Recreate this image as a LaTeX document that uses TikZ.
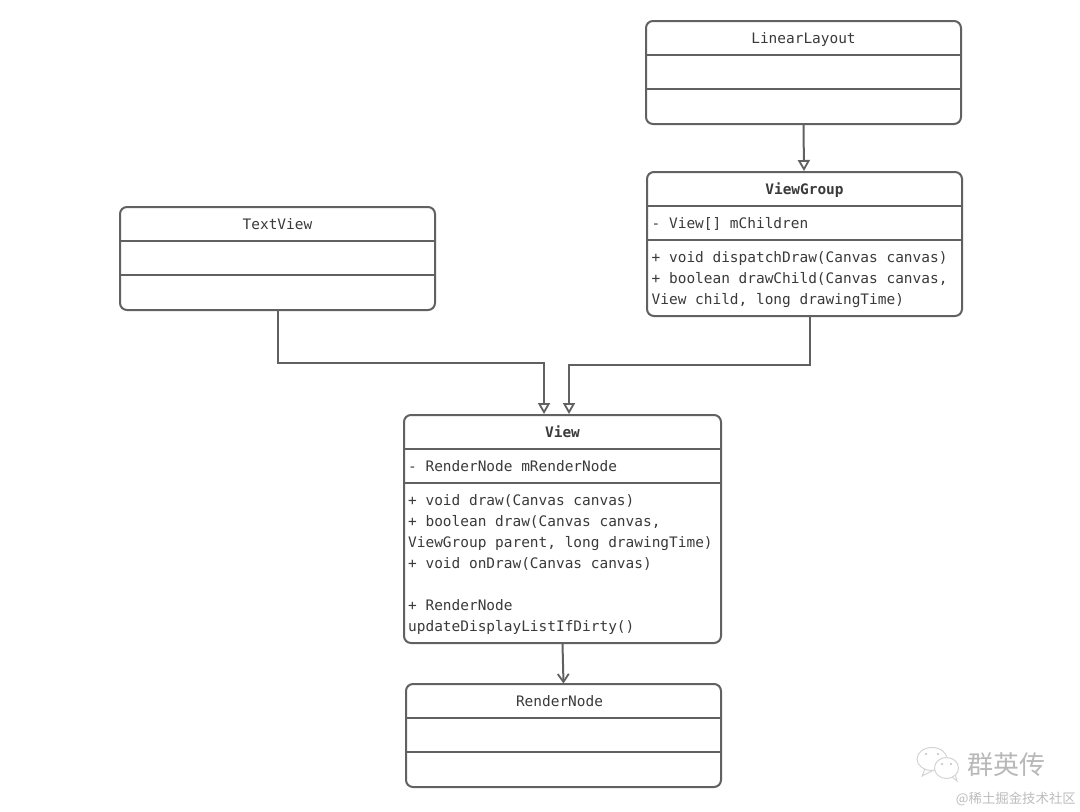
\documentclass[tikz,border=0pt]{standalone}
\usepackage{fontspec}
\setmonofont{DejaVu Sans Mono}
\newfontfamily\cjkf{Noto Sans CJK SC}
\usetikzlibrary{arrows.meta,positioning}
\definecolor{linec}{HTML}{616161}
\definecolor{textc}{HTML}{3A3A3A}
\tikzset{
  x=1pt,y=-1pt,
  umlbox/.style={draw=linec,line width=2pt,rounded corners=7pt,inner sep=0pt,fill=white},
  sep/.style={draw=linec,line width=2pt},
  conn/.style={draw=linec,line width=2pt},
  inherit/.style={conn,-{Triangle[open,length=11pt,width=12pt,line width=1.8pt]}},
  assoc/.style={conn,-{Straight Barb[length=8pt,width=11pt,line width=1.8pt]}},
  title/.style={font=\ttfamily\fontsize{14.45}{21}\selectfont,text=textc,inner sep=0pt,anchor=center},
  btitle/.style={title,font=\ttfamily\bfseries\fontsize{14.45}{21}\selectfont},
  body/.style={font=\ttfamily\fontsize{14.45}{21}\selectfont,text=textc,inner sep=0pt,anchor=north west,align=left},
}
\begin{document}
\begin{tikzpicture}
\useasboundingbox (0,0) rectangle (1080,812);
\fill[white] (0,0) rectangle (1080,812);

% boxes
\node[umlbox,minimum width=315pt,minimum height=103pt] (ll) at (803.5,72.5) {};
\node[umlbox,minimum width=315pt,minimum height=144pt] (vg) at (804.5,244) {};
\node[umlbox,minimum width=315pt,minimum height=103pt] (tv) at (277.5,258.5) {};
\node[umlbox,minimum width=317pt,minimum height=228pt] (vw) at (562.5,529) {};
\node[umlbox,minimum width=315pt,minimum height=103pt] (rn) at (563.5,735.5) {};

% separators
\draw[sep] (ll.west |- 0,55) -- (ll.east |- 0,55);
\draw[sep] (ll.west |- 0,89) -- (ll.east |- 0,89);
\draw[sep] (vg.west |- 0,206) -- (vg.east |- 0,206);
\draw[sep] (vg.west |- 0,240) -- (vg.east |- 0,240);
\draw[sep] (tv.west |- 0,241) -- (tv.east |- 0,241);
\draw[sep] (tv.west |- 0,275) -- (tv.east |- 0,275);
\draw[sep] (vw.west |- 0,449) -- (vw.east |- 0,449);
\draw[sep] (vw.west |- 0,483) -- (vw.east |- 0,483);
\draw[sep] (rn.west |- 0,718) -- (rn.east |- 0,718);
\draw[sep] (rn.west |- 0,752) -- (rn.east |- 0,752);

% titles
\node[title] (llt) at (803.5,39.5) {LinearLayout};
\node[btitle] (vgt) at (804.5,190) {ViewGroup};
\node[title] (tvt) at (277.5,224.2) {TextView};
\node[btitle] (vwt) at (562.5,432.2) {View};
\node[title] (rnt) at (559.5,701.2) {RenderNode};

% members
\node[body] (vga) at (651.5,217.5) {- View[] mChildren};
\node[body] (vgm) at (651.5,251.5) {+ void dispatchDraw(Canvas canvas)\\+ boolean drawChild(Canvas canvas,\\View child, long drawingTime)};
\node[body] (vwa) at (408,460.5) {- RenderNode mRenderNode};
\node[body] (vwm) at (408,494.5) {+ void draw(Canvas canvas)\\+ boolean draw(Canvas canvas,\\ViewGroup parent, long drawingTime)\\+ void onDraw(Canvas canvas)\\[21pt]+ RenderNode\\updateDisplayListIfDirty()};

% connectors
\coordinate (vgin) at (804,171);
\coordinate (vin1) at (544,414);
\coordinate (vin2) at (569,414);
\coordinate (vgout) at (810,316);
\coordinate (rnin) at (563.5,683.5);
\draw[inherit] (ll.south) -- (vgin);
\draw[inherit] (tv.south) -- ++(0,52) -| (vin1);
\draw[inherit] (vgout) -- ++(0,49) -| (vin2);
\draw[assoc] (vw.south) -- (rnin);

% watermark
\begin{scope}[draw=black!17,line width=1pt,fill=white]
  \draw (932,759) ellipse [x radius=15pt,y radius=11.5pt];
  \draw (925,769) -- (922,776) -- (933,770.5);
  \fill[black!25] (926,754) circle (1.1pt) (938,754) circle (1.1pt);
  \draw[fill=white] (946.5,768) ellipse [x radius=12pt,y radius=10.5pt];
  \draw (952,777) -- (957,781) -- (955.5,775);
  \fill[black!25] (942,764) circle (1.1pt) (951,764) circle (1.1pt);
\end{scope}
\node[font=\cjkf\fontsize{26}{26}\selectfont,text=black!28,inner sep=0pt] (wm1) at (1006,765) {群英传};
\node[font=\cjkf\fontsize{13.4}{13.4}\selectfont,text=black!26,inner sep=0pt,anchor=east] (wm2) at (1076,799) {@稀土掘金技术社区};
\end{tikzpicture}
\end{document}
